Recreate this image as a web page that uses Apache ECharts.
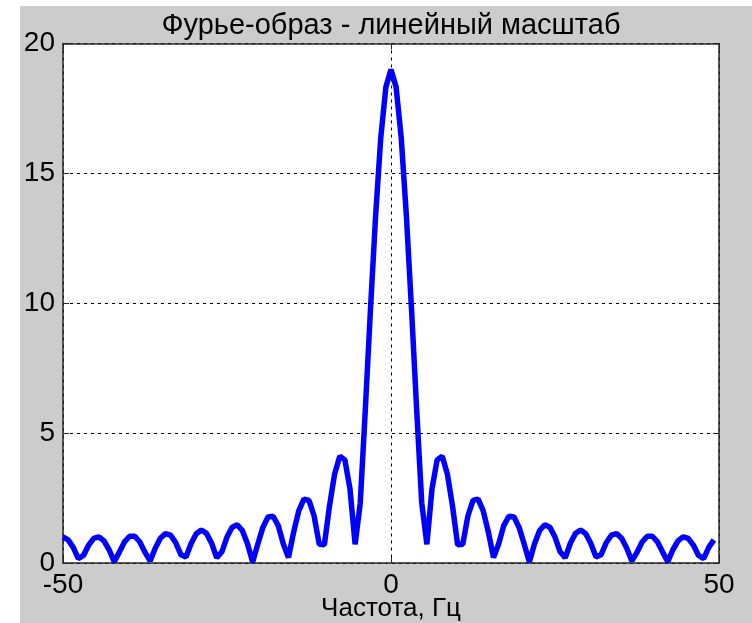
<!DOCTYPE html>
<html>
<head>
<meta charset="utf-8">
<script src="https://cdn.jsdelivr.net/npm/echarts@6/dist/echarts.min.js"></script>
<style>
html,body{margin:0;padding:0;background:#ffffff;}
#bg{position:absolute;left:20px;top:6px;width:732px;height:617px;background:#cccccc;}
#chart{position:absolute;left:0;top:0;width:752px;height:623px;}
</style>
</head>
<body>
<div id="bg"></div>
<div id="chart"></div>
<script>
const titleText = "Фурье-образ - линейный масштаб";
const xName = "Частота, Гц";
const xTicks = [-50, 0, 50];
const yTicks = [0, 5, 10, 15, 20];

const freq = [
  -50, -49.22, -48.44, -47.66, -46.88, -46.09, -45.31, -44.53, -43.75, -42.97,
  -42.19, -41.41, -40.63, -39.84, -39.06, -38.28, -37.5, -36.72, -35.94, -35.16,
  -34.38, -33.59, -32.81, -32.03, -31.25, -30.47, -29.69, -28.91, -28.13, -27.34,
  -26.56, -25.78, -25, -24.22, -23.44, -22.66, -21.88, -21.09, -20.31, -19.53,
  -18.75, -17.97, -17.19, -16.41, -15.63, -14.84, -14.06, -13.28, -12.5, -11.72,
  -10.94, -10.16, -9.38, -8.59, -7.81, -7.03, -6.25, -5.47, -4.69, -3.91,
  -3.13, -2.34, -1.56, -0.78,
  0,
  0.78, 1.56, 2.34, 3.13, 3.91, 4.69, 5.47, 6.25, 7.03, 7.81,
  8.59, 9.38, 10.16, 10.94, 11.72, 12.5, 13.28, 14.06, 14.84, 15.63,
  16.41, 17.19, 17.97, 18.75, 19.53, 20.31, 21.09, 21.88, 22.66, 23.44,
  24.22, 25, 25.78, 26.56, 27.34, 28.13, 28.91, 29.69, 30.47, 31.25,
  32.03, 32.81, 33.59, 34.38, 35.16, 35.94, 36.72, 37.5, 38.28, 39.06,
  39.84, 40.63, 41.41, 42.19, 42.97, 43.75, 44.53, 45.31, 46.09, 46.88,
  47.66, 48.44, 49.22
];

const amplitude = [
  1.00, 0.89, 0.60, 0.17, 0.29, 0.69, 0.95, 1.01, 0.85, 0.51,
  0.05, 0.42, 0.81, 1.03, 1.03, 0.81, 0.41, 0.08, 0.57, 0.95,
  1.13, 1.07, 0.78, 0.32, 0.23, 0.75, 1.13, 1.27, 1.14, 0.76,
  0.20, 0.43, 1.00, 1.38, 1.47, 1.25, 0.74, 0.04, 0.72, 1.37,
  1.77, 1.80, 1.44, 0.73, 0.21, 1.19, 2.01, 2.46, 2.41, 1.81,
  0.72, 0.70, 2.19, 3.43, 4.11, 3.97, 2.85, 0.72, 2.30, 5.92,
  9.76, 13.39, 16.37, 18.32,
  19.00,
  18.32, 16.37, 13.39, 9.76, 5.92, 2.30, 0.72, 2.85, 3.97, 4.11,
  3.43, 2.19, 0.70, 0.72, 1.81, 2.41, 2.46, 2.01, 1.19, 0.21,
  0.73, 1.44, 1.80, 1.77, 1.37, 0.72, 0.04, 0.74, 1.25, 1.47,
  1.38, 1.00, 0.43, 0.20, 0.76, 1.14, 1.27, 1.13, 0.75, 0.23,
  0.32, 0.78, 1.07, 1.13, 0.95, 0.57, 0.08, 0.41, 0.81, 1.03,
  1.03, 0.81, 0.42, 0.05, 0.51, 0.85, 1.01, 0.95, 0.69, 0.29,
  0.17, 0.60, 0.89
];

const FONT = "'Liberation Sans', Arial, Helvetica, sans-serif";
const frameColor = '#262626';
const chart = echarts.init(document.getElementById('chart'), null, {renderer: 'canvas'});

const axisCommonX = {
  type: 'value', min: xTicks[0], max: xTicks[xTicks.length - 1], interval: 50,
  axisLine: {show: true, onZero: false, lineStyle: {color: frameColor, width: 1.5}},
  axisTick: {show: true, inside: true, length: 6, lineStyle: {color: frameColor, width: 1}},
};
const axisCommonY = {
  type: 'value', min: yTicks[0], max: yTicks[yTicks.length - 1], interval: 5,
  axisLine: {show: true, onZero: false, lineStyle: {color: frameColor, width: 1.5}},
  axisTick: {show: true, inside: true, length: 6, lineStyle: {color: frameColor, width: 1}},
};

chart.setOption({
  animation: false,
  backgroundColor: 'transparent',
  graphic: [{
    type: 'text', x: 391, y: 11, z: 10,
    style: {text: titleText, align: 'center', verticalAlign: 'top',
      font: "29px " + FONT, fill: '#000'}
  }],
  grid: {left: 63, top: 43.5, right: 33, bottom: 60, show: true,
    backgroundColor: '#ffffff', borderWidth: 0,
    containLabel: false, outerBoundsMode: 'none'},
  xAxis: [
    Object.assign({}, axisCommonX, {
      position: 'bottom',
      name: xName, nameLocation: 'middle', nameGap: 33, nameMoveOverlap: false,
      nameTextStyle: {fontFamily: FONT, fontSize: 26, color: '#000'},
      axisLabel: {show: true, margin: 8, fontFamily: FONT, fontSize: 28, color: '#000'},
      splitLine: {show: true, lineStyle: {color: '#000', width: 1, type: [3, 4]}}
    }),
    Object.assign({}, axisCommonX, {
      position: 'top', axisLabel: {show: false}, splitLine: {show: false}
    })
  ],
  yAxis: [
    Object.assign({}, axisCommonY, {
      position: 'left',
      axisLabel: {show: true, margin: 8, fontFamily: FONT, fontSize: 28, color: '#000'},
      splitLine: {show: true, lineStyle: {color: '#000', width: 1, type: [3, 4]}}
    }),
    Object.assign({}, axisCommonY, {
      position: 'right', axisLabel: {show: false}, splitLine: {show: false}
    })
  ],
  series: [{
    type: 'line',
    data: freq.map((f, i) => [f, amplitude[i]]),
    showSymbol: false,
    symbol: 'none',
    clip: true,
    lineStyle: {color: '#0000ff', width: 5.5},
    z: 5
  }]
});
</script>
</body>
</html>
